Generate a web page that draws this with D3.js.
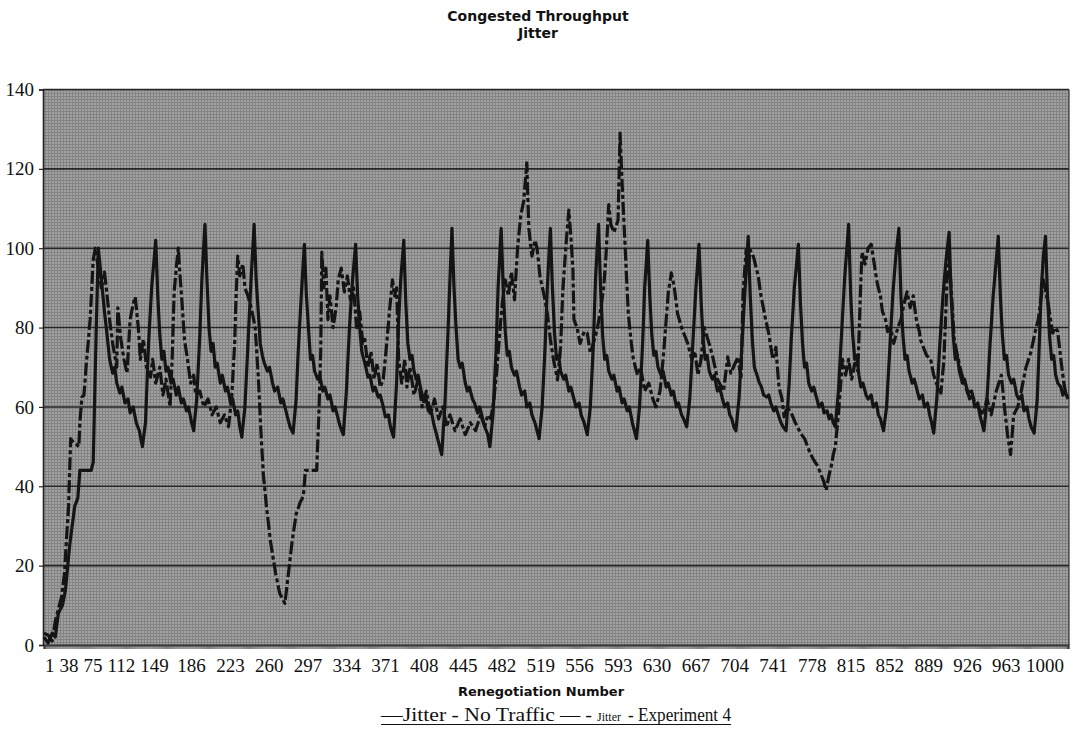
<!DOCTYPE html>
<html>
<head>
<meta charset="utf-8">
<script src="https://cdn.jsdelivr.net/npm/d3@7"></script>
<style>
  html, body { margin: 0; padding: 0; background: #ffffff; }
  svg { display: block; }
</style>
</head>
<body>
<svg id="chart" width="1084" height="740"></svg>
<script>
// Jitter per renegotiation, [renegotiation number, jitter]
const noTraffic = [
  [1,2],[5,0.5],[9,3],[12,2],[15,8],[19,10],[22,14],[26,25],[31,35],[34,37],[36,44],[47,44],[49,46],[52,80],[54,100],
  [57,92],[60,84],[63,77],[65,72],[68,68.5],[70,70],[72,66],[75,63.5],[77,65],[80,61],[83,62],[85,58.5],[88,60],[91,56],[94,54],[97,50],[100,56],[103,76],[106,90],[110,102],
  [112,88],[114,78],[116,72],[118,74],[120,69],[122,70],[125,66],[127,67],[130,63],[132,65],[135,61],[137,62],[140,59],[142,60],[145,56],[147,54],[150,62],[153,78],[155,92],[158,106],
  [160,92],[162,80],[164,74],[166,76],[168,70],[170,71],[173,66],[175,68],[178,64],[180,65],[183,61],[185,62],[188,58],[190,59],[192,55],[194,52.4],[197,60],[200,76],[203,92],[206,106],
  [208,92],[210,84],[212,76],[214,73],[216,71],[219,69],[221,70],[224,66],[226,64],[229,65],[232,61],[234,62],[237,59],[239,57],[241,55],[244,53.4],[247,62],[249,74],[252,88],[255,101],
  [257,88],[259,80],[261,72],[263,73],[265,69],[268,67],[270,68],[273,64],[275,65],[278,62],[280,63],[283,59],[285,60],[288,57],[290,55],[293,53],[296,64],[299,80],[302,92],[305,101],
  [307,88],[309,80],[311,74],[313,72],[315,70],[317,67.5],[319,68],[322,64],[324,65],[327,62.5],[329,63],[332,60],[334,57.5],[337,58],[339,55],[342,52.4],[345,66],[347,82],[349,92],[352,102],
  [354,86],[356,76],[358,72],[360,73],[362,69],[364,67],[366,68],[369,64],[371,62],[373,63],[376,59],[378,60],[381,56],[383,54],[386,51],[389,48],[392,60],[395,78],[397,92],[399,105],
  [401,90],[403,80],[405,72],[407,70],[409,71],[412,66],[414,64],[416,65],[419,62],[421,61],[424,58.5],[426,60],[429,57],[431,55],[434,53],[436,50],[439,58],[442,74],[444,90],[447,105],
  [449,90],[451,79],[453,73],[455,74],[457,70],[460,68],[462,69],[465,65],[467,63],[470,64],[472,60],[475,61],[477,58],[480,56],[482,54],[484,52],[487,60],[490,76],[492,90],[495,105],
  [497,90],[499,79],[501,72],[503,73],[505,69],[508,67],[510,68],[513,64],[515,65],[518,62],[520,60],[523,61],[525,58],[528,56],[531,53],[534,60],[537,76],[539,92],[542,106],
  [544,90],[546,78],[548,72],[550,73],[552,69],[555,67],[557,68],[560,64],[562,65],[565,61],[567,62],[570,59],[572,60],[575,56],[577,54],[579,52],[582,60],[585,76],[587,90],[590,102],
  [592,88],[594,78],[596,73],[598,74],[600,70],[603,68],[605,69],[608,65],[610,66],[613,63],[615,64],[618,60],[620,61],[623,58],[625,57],[628,55],[631,62],[634,76],[637,90],[640,101],
  [642,87],[644,77],[646,72],[648,73],[650,69],[653,67],[655,68],[658,64],[660,65],[663,62],[665,60],[668,61],[670,58],[672,57],[674,55],[676,54],[679,62],[682,76],[685,90],[688,103],
  [690,88],[692,77],[694,70],[696,68.5],[699,66],[701,65],[703,63],[706,62.5],[708,63],[710,61],[713,59],[715,60],[718,57.5],[720,56],[722,55],[725,54],[728,66],[730,77],[733,90],[737,101],
  [739,86],[741,76],[743,70],[745,71],[747,66],[750,64],[752,65],[755,62],[757,60],[760,61],[762,58.5],[765,59],[767,57],[769,58],[771,56],[773,55],[776,64],[779,78],[782,92],[786,106],
  [788,88],[790,78],[792,72],[794,73],[796,68],[798,65],[800,66],[803,63],[805,62],[808,63],[810,60],[813,61],[815,58],[817,57],[820,54],[823,60],[826,74],[829,88],[832,98],[835,105],
  [837,88],[839,78],[841,72],[843,73],[845,69],[848,66],[850,67],[853,64],[855,62],[858,63],[860,60],[863,61],[865,58],[867,56],[869,53.4],[872,62],[875,76],[878,88],[881,97],[884,104],
  [886,88],[888,78],[890,72],[892,73],[894,69],[897,66],[899,67],[902,64],[904,62],[907,63],[909,60],[912,61],[914,58],[916,56],[918,54],[921,62],[924,76],[927,88],[930,97],[932,103],
  [934,88],[936,78],[938,72],[940,73],[942,68],[945,66],[947,67],[950,63],[952,62],[955,63],[957,59],[960,60],[962,57],[964,55],[967,53.4],[970,62],[972,76],[974,90],[976,98],[978,103],
  [980,88],[982,78],[984,72],[986,73],[988,68],[990,66],[993,65],[995,63],[997,64],[1000,62]
];

const experiment4 = [
  [1,3],[5,2.5],[9,1],[12,6],[15,9],[18,12],[21,18],[23,27],[25,35],[27,52],[30,51],[33,50.5],[35,50],[36,56],[38,62.5],[40,63],[42,70],[44,76],[46,82],[49,97],[51,100],
  [54,95],[57,90],[60,94],[63,87],[65,82],[68,76],[72,70],[73,85],[76,77],[79,72],[82,68.5],[85,82],[88,86],[90,87.7],[93,80],[95,72],[98,77],[101,70],[105,67.5],[107,72],[110,66],
  [114,70],[117,63],[120,67],[124,60],[126,72],[128,89],[130,95],[132,100],[134,92],[136,85],[138,77],[141,72],[144,66],[147,68],[149,63],[153,64],[157,60],[161,62],[165,58],
  [169,60],[173,56],[177,58],[181,55],[184,62],[187,76],[188,85],[190,98],[192,93],[195,96],[197,90],[200,88],[204,84],[207,80],[210,68],[213,52],[215,43],[218,35],[222,26],
  [227,18],[231,13],[236,10.5],[239,17],[243,26],[247,33],[251,36],[254,37.5],[256,44],[261,44],[267,44],[269,57],[271,74],[272,99],[274,90],[276,95],[278,82],[280,88],
  [283,80],[286,85],[288,92],[291,95],[294,89],[297,93],[300,87],[303,90],[306,80],[309,84],[312,76],[314,77],[317,70],[320,74],[323,67],[326,71],[329,65],[332,67],[335,75],
  [338,84],[341,92],[343,88],[345,90],[347,72],[350,66],[353,72],[355,65],[358,70],[362,63],[366,67],[370,60],[374,64],[378,58],[382,62],[386,57],[390,60],[394,55],[397,58],
  [402,54],[407,57],[412,53],[417,56],[422,54],[427,58],[431,55],[434,58],[437,57],[440,62],[443,70],[446,80],[448,86],[451,92],[454,88],[457,94],[460,87],[463,100],[466,108],
  [469,112],[472,121.5],[474,105],[477,98],[480,102],[482,100],[485,92.7],[489,88],[492,83.6],[495,77],[498,72],[502,66.8],[505,75],[507,88.7],[510,100],[513,109.6],[515,103],
  [517,95],[518,82],[521,80],[524,76],[528,79],[531,78.6],[534,73.6],[538,77],[541,80],[544,84.4],[547,90],[549,97],[552,111],[554,106],[557,104],[561,107],[563,129],[565,116.4],
  [568,100],[571,83.6],[574,76],[576,72],[580,68],[583,70],[587,64],[591,66],[595,62],[598,60],[602,64],[605,72],[610,88.7],[613,93.8],[616,90],[619,83.6],[623,80],[626,78],
  [629,76],[633,72],[636,74],[639,68],[642,72],[645,80],[648,77.6],[651,75],[654,72],[658,67],[664,64],[668,72.6],[671,68.5],[678,72.6],[681,67],[683,88.7],[686,99.5],[688,95],
  [690,99.5],[693,98],[698,92.7],[700,88.7],[705,82],[708,78.6],[712,72],[715,75],[718,65],[721,62],[723,57.5],[726,60],[730,58.5],[734,56],[739,53.4],[743,52],[746,50],[749,48],
  [752,46.6],[756,45],[759,43],[762,41],[764,39],[767,43],[769,45],[771,48],[773,50],[776,58],[778,65],[780,72],[783,68],[786,72],[789,67],[792,71],[795,69],[797,85],[799,99],
  [802,96],[805,100],[808,101],[811,96],[814,91],[817,88],[819,84],[822,82],[824,79],[827,80],[830,76],[834,80],[837,82],[840,86],[843,89],[846,85],[849,88],[852,82],[855,79],
  [856,77],[859,75],[862,73],[866,72],[869,68],[873,65],[876,63.5],[879,72],[882,92],[884,98],[886,90],[889,77],[893,72],[896,68.5],[899,66],[902,63.5],[906,64],[909,61],[912,60],
  [917,58],[921,62],[925,58],[930,64],[935,68],[938,60],[941,53],[944,48],[947,58],[951,60],[954,63.5],[959,70],[964,74],[968,79],[971,82],[974,88],[976,92],[979,88],[980,87],
  [983,82],[985,78.6],[988,80],[990,79],[993,72],[996,66],[998,63],[1000,62.5]
];

const yTicks = [0, 20, 40, 60, 80, 100, 120, 140];
const xTickLabels = [1, 38, 75, 112, 149, 186, 223, 260, 297, 334, 371, 408, 445, 482, 519, 556, 593, 630, 667, 704, 741, 778, 815, 852, 889, 926, 963, 1000];

const titleLines = ["Congested Throughput", "Jitter"];
const xTitle = "Renegotiation Number";
const legendParts = ["\u2014Jitter - No Traffic", "\u2014 -", "Jitter", "- Experiment 4"];

// ---- layout ----
const plot = { left: 43, right: 1069, top: 89.5, bottom: 645 };
const svg = d3.select("#chart");
const serif = "'Liberation Serif', 'Times New Roman', serif";
const sans = "'DejaVu Sans', Verdana, sans-serif";

const x = d3.scaleLinear().domain([1, 1000]).range([plot.left + 1, plot.right - 1]);
const y = d3.scaleLinear().domain([0, 140]).range([plot.bottom, plot.top]);

// halftone fill of the plot area
const defs = svg.append("defs");
const pat = defs.append("pattern")
  .attr("id", "screen").attr("width", 3).attr("height", 3)
  .attr("patternUnits", "userSpaceOnUse");
pat.append("rect").attr("width", 3).attr("height", 3).attr("fill", "#a2a2a2");
pat.append("rect").attr("width", 3).attr("height", 1).attr("fill", "#848484");
pat.append("rect").attr("width", 1).attr("height", 3).attr("fill", "#848484");

svg.append("rect")
  .attr("x", plot.left).attr("y", plot.top)
  .attr("width", plot.right - plot.left).attr("height", plot.bottom - plot.top)
  .attr("fill", "url(#screen)");

// horizontal gridlines
svg.append("g").selectAll("line")
  .data(yTicks.filter(v => v > 0))
  .join("line")
  .attr("x1", plot.left).attr("x2", plot.right)
  .attr("y1", d => y(d)).attr("y2", d => y(d))
  .attr("stroke", "#262626").attr("stroke-width", 1.6);

// right border
svg.append("line")
  .attr("x1", plot.right).attr("x2", plot.right)
  .attr("y1", plot.top).attr("y2", plot.bottom)
  .attr("stroke", "#303030").attr("stroke-width", 1.2);

// y axis
const yAxis = svg.append("g")
  .attr("transform", `translate(${plot.left},0)`)
  .call(d3.axisLeft(y).tickValues(yTicks).tickSize(4).tickPadding(5).tickFormat(d3.format("d")));
yAxis.select(".domain").attr("stroke", "#222").attr("stroke-width", 1.6);
yAxis.selectAll(".tick line").attr("stroke", "#222").attr("stroke-width", 1.2);
yAxis.selectAll(".tick text")
  .attr("font-family", serif).attr("font-size", 19).attr("fill", "#111");

// x axis: a tick for every renegotiation forms the dark band under the plot
const xAxis = svg.append("g")
  .attr("transform", `translate(0,${plot.bottom})`)
  .call(d3.axisBottom(x).tickValues(d3.range(1, 1001)).tickSize(4).tickFormat(""));
xAxis.select(".domain").attr("stroke", "#1e1e1e").attr("stroke-width", 2.2);
xAxis.selectAll(".tick line").attr("stroke", "#4a4a4a").attr("stroke-width", 0.7);

// x tick labels: evenly stepped, pushed right where they would collide
const labelStep = d3.scaleLinear().domain([3, 27]).range([114, 1045]);
const labelNodes = svg.append("g")
  .attr("font-family", serif).attr("font-size", 19).attr("fill", "#111")
  .selectAll("text")
  .data(xTickLabels)
  .join("text")
  .attr("y", plot.bottom + 27)
  .text(d => d);
let prevEnd = plot.left - 3;
labelNodes.each(function(d, i) {
  const w = this.getComputedTextLength();
  let left = labelStep(i) - w / 2;
  if (left < prevEnd + 5) left = prevEnd + 5;
  d3.select(this).attr("x", left);
  prevEnd = left + w;
});

// series
const line = d3.line().x(d => x(d[0])).y(d => y(d[1]));

svg.append("path")
  .datum(experiment4)
  .attr("d", line)
  .attr("fill", "none")
  .attr("stroke", "#141414")
  .attr("stroke-width", 3.2)
  .attr("stroke-linejoin", "round")
  .attr("stroke-dasharray", "13,3,4,3");

svg.append("path")
  .datum(noTraffic)
  .attr("d", line)
  .attr("fill", "none")
  .attr("stroke", "#141414")
  .attr("stroke-width", 3.2)
  .attr("stroke-linejoin", "round");

// titles
svg.append("g")
  .attr("font-family", sans)
  .attr("font-weight", "bold").attr("font-size", 14).attr("fill", "#111")
  .attr("text-anchor", "middle")
  .selectAll("text")
  .data(titleLines)
  .join("text")
  .attr("x", 538)
  .attr("y", (d, i) => 21 + i * 17)
  .text(d => d);

svg.append("text")
  .attr("x", 541).attr("y", 696)
  .attr("text-anchor", "middle")
  .attr("font-family", sans)
  .attr("font-weight", "bold").attr("font-size", 13).attr("fill", "#111")
  .text(xTitle);

// legend
const legendSpec = [
  { x: 381, size: 18, len: 174 },
  { x: 560, size: 18, len: 32 },
  { x: 597, size: 12, len: null },
  { x: 628, size: 18, len: 103 }
];
const legendG = svg.append("g").attr("font-family", serif).attr("fill", "#111");
legendParts.forEach((t, i) => {
  const s = legendSpec[i];
  const el = legendG.append("text")
    .attr("x", s.x).attr("y", 721)
    .attr("font-size", s.size)
    .text(t);
  if (s.len) el.attr("textLength", s.len).attr("lengthAdjust", "spacingAndGlyphs");
});
legendG.append("line")
  .attr("x1", 381).attr("x2", 731)
  .attr("y1", 724.5).attr("y2", 724.5)
  .attr("stroke", "#111").attr("stroke-width", 1.2);
</script>
</body>
</html>
